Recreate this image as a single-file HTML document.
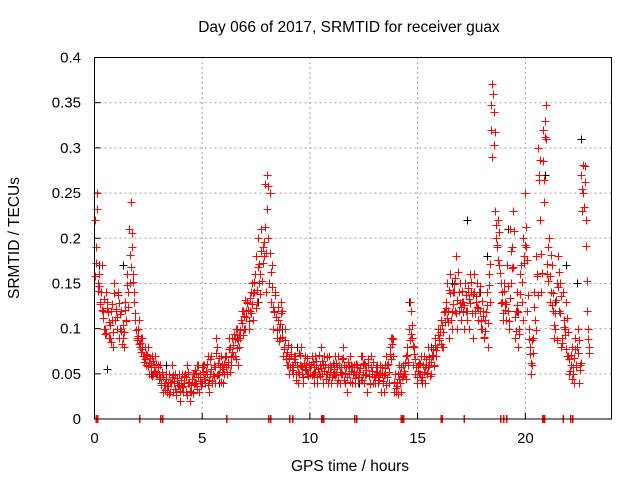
<!DOCTYPE html>
<html><head><meta charset="utf-8"><style>
body{margin:0;background:#fff}
svg text{font-family:"Liberation Sans",sans-serif;font-size:15px;fill:#000}
</style></head><body>
<svg id="chart" width="640" height="480" xmlns="http://www.w3.org/2000/svg">
<rect width="640" height="480" fill="#fff"/>
<text x="349" y="32" text-anchor="middle" style="font-size:15.5px">Day 066 of 2017, SRMTID for receiver guax</text>
<text transform="translate(19,238) rotate(-90)" text-anchor="middle" style="font-size:15.5px">SRMTID / TECUs</text>
<text x="350" y="471" text-anchor="middle" style="font-size:15.5px">GPS time / hours</text>
<g id="grid"></g>
<g id="ticks"></g>
<g id="pts" shape-rendering="crispEdges"></g>
<g id="marks" shape-rendering="crispEdges"></g>
<rect x="94.5" y="57.5" width="517" height="361.5" fill="none" stroke="#000" stroke-width="1"/>
</svg>
<script>
const xTicks=[0,5,10,15,20];
const yTicks=[0,0.05,0.1,0.15,0.2,0.25,0.3,0.35,0.4];
const yTickLabels=["0","0.05","0.1","0.15","0.2","0.25","0.3","0.35","0.4"];
const redA=[.22,.25,.16,.14,.12,.10,.13,.09,.11,.15,
.12,.14,.10,.09,.13,.16,.21,.24,.16,.11,
.10,.08,.09,.07,.06,.08,.06,.05,.07,.05,
.05,.04,.03,.05,.04,.03,.06,.04,.03,.05,
.04,.03,.05,.06,.04,.03,.05,.04,.06,.05,
.04,.06,.05,.03,.07,.05,.04,.08,.05,.06,
.05,.07,.06,.08,.09,.07,.10,.08,.11,.12,
.10,.13,.12,.15,.14,.18,.20,.16,.19,.26,
.27,.15,.13,.10,.14,.11,.09,.12,.08,.07,
.06,.08,.05,.07,.06,.05,.08,.04,.06,.05,
.05,.07,.04,.06,.05,.08,.04,.06,.05,.07,
.04,.06,.05,.07,.04,.05,.06,.03,.05,.06,
.05,.04,.06,.05,.07,.04,.05,.06,.04,.05,
.04,.06,.05,.03,.04,.05,.06,.08,.09,.03,
.03,.05,.04,.06,.05,.08,.10,.12,.06,.05,
.06,.05,.04,.07,.06,.08,.05,.07,.09,.08,
.09,.11,.08,.13,.12,.16,.10,.14,.18,.12,
.11,.13,.15,.12,.10,.14,.16,.13,.11,.12,
.10,.09,.14,.16,.32,.36,.23,.19,.17,.13,
.15,.11,.12,.21,.19,.09,.14,.10,.17,.20,
.25,.12,.08,.06,.14,.18,.30,.22,.32,.33,
.16,.20,.14,.12,.10,.18,.15,.09,.11,.13,
.07,.06,.05,.09,.08,.04,.27,.25,.22,.10];
const redB=[.19,.15,.13,.17,.10,.14,.09,.12,.08,.11,
.10,.09,.12,.08,.11,.14,.15,.19,.13,.09,
.11,.09,.07,.08,.07,.05,.07,.06,.05,.06,
.06,.05,.04,.03,.05,.04,.03,.05,.04,.02,
.05,.04,.03,.04,.02,.05,.04,.06,.03,.04,
.06,.04,.07,.05,.04,.06,.09,.05,.07,.04,
.07,.05,.09,.06,.07,.10,.06,.09,.12,.10,
.12,.10,.14,.11,.16,.13,.15,.21,.18,.14,
.20,.25,.17,.12,.09,.10,.13,.07,.10,.06,
.05,.06,.07,.05,.04,.06,.05,.07,.05,.06,
.06,.05,.07,.04,.06,.05,.07,.05,.04,.06,
.05,.07,.04,.06,.05,.08,.04,.06,.07,.04,
.06,.05,.04,.07,.05,.06,.03,.05,.07,.04,
.05,.04,.06,.05,.03,.07,.04,.09,.07,.05,
.04,.06,.03,.05,.07,.06,.13,.09,.08,.04,
.05,.07,.06,.04,.05,.06,.07,.06,.07,.10,
.10,.08,.12,.15,.09,.11,.14,.12,.10,.15,
.13,.10,.12,.14,.16,.09,.12,.15,.14,.10,
.12,.11,.08,.13,.29,.34,.20,.22,.15,.11,
.13,.17,.10,.15,.23,.12,.08,.16,.13,.18,
.19,.10,.05,.09,.11,.16,.27,.14,.24,.31,
.19,.13,.17,.09,.15,.12,.08,.14,.10,.07,
.05,.08,.04,.06,.10,.06,.23,.28,.12,.08];
const redC=[.158,.232,.147,.121,.133,.095,.118,.104,.127,.139,
.113,.128,.097,.104,.121,.148,.182,.206,.141,.098,
.092,.084,.078,.066,.071,.062,.057,.064,.052,.058,
.047,.052,.038,.044,.036,.041,.049,.033,.045,.038,
.043,.036,.047,.052,.031,.044,.039,.051,.046,.037,
.052,.047,.061,.043,.055,.048,.073,.062,.058,.052,
.061,.058,.077,.069,.082,.088,.079,.093,.106,.114,
.113,.121,.134,.127,.152,.143,.172,.186,.173,.212,
.232,.184,.146,.118,.113,.124,.105,.091,.087,.074,
.067,.072,.058,.063,.052,.071,.057,.062,.054,.048,
.058,.063,.052,.047,.071,.056,.061,.044,.057,.052,
.047,.055,.062,.043,.058,.067,.051,.046,.059,.053,
.052,.061,.047,.056,.043,.062,.054,.048,.057,.063,
.046,.052,.043,.057,.049,.038,.061,.072,.083,.041,
.036,.044,.057,.048,.062,.071,.087,.104,.072,.058,
.053,.061,.047,.058,.051,.069,.063,.078,.082,.093,
.096,.104,.118,.123,.107,.139,.127,.156,.132,.141,
.124,.118,.137,.145,.128,.117,.141,.136,.123,.108,
.114,.097,.126,.148,.347,.303,.215,.176,.162,.141,
.142,.127,.108,.186,.168,.113,.126,.094,.152,.173,
.212,.137,.072,.087,.124,.158,.264,.183,.285,.312,
.172,.158,.126,.104,.132,.146,.117,.084,.093,.112,
.066,.071,.058,.078,.073,.054,.254,.235,.191,.088];
const redD=[.173,.142,.127,.112,.094,.123,.107,.085,.096,.122,
.137,.116,.083,.096,.108,.124,.168,.152,.117,.087,
.083,.074,.063,.072,.059,.067,.048,.053,.061,.044,
.038,.046,.032,.036,.028,.047,.042,.027,.038,.031,
.035,.048,.027,.041,.038,.029,.054,.033,.042,.057,
.044,.053,.038,.066,.042,.057,.049,.068,.041,.055,
.069,.063,.052,.074,.094,.066,.087,.098,.093,.132,
.128,.108,.117,.139,.123,.168,.138,.153,.196,.184,
.258,.163,.124,.137,.098,.086,.117,.078,.066,.082,
.058,.054,.066,.043,.073,.059,.046,.055,.068,.061,
.049,.057,.064,.055,.048,.064,.053,.069,.046,.058,
.062,.049,.057,.052,.066,.043,.058,.063,.041,.057,
.045,.057,.052,.043,.061,.049,.066,.039,.053,.047,
.058,.047,.051,.042,.056,.047,.052,.066,.088,.034,
.028,.051,.046,.053,.044,.063,.094,.081,.066,.047,
.062,.043,.052,.066,.057,.048,.071,.059,.076,.087,
.083,.096,.107,.112,.143,.118,.149,.117,.163,.128,
.142,.126,.109,.133,.152,.138,.117,.124,.147,.131,
.091,.118,.106,.172,.371,.318,.193,.207,.128,.117,
.121,.147,.134,.167,.208,.097,.118,.138,.109,.192,
.176,.089,.062,.073,.098,.137,.287,.162,.264,.347,
.153,.182,.139,.117,.087,.163,.136,.102,.078,.096,
.053,.044,.067,.057,.087,.062,.281,.262,.153,.073];
const blackT=[0.05,0.2,0.6,1.3,2.2,2.6,3.3,5.8,6.6,7.2,7.6,8.7,9.4,10.2,11.1,12.3,13.5,14.6,15.6,16.6,17.3,17.9,18.2,19.2,19.6,20.3,20.9,21.4,21.9,22.4,22.6];
const blackV=[0.19,0.17,0.055,0.17,0.08,0.05,0.06,0.04,0.09,0.12,0.13,0.1,0.08,0.05,0.05,0.04,0.06,0.13,0.08,0.15,0.22,0.14,0.18,0.21,0.12,0.06,0.27,0.13,0.17,0.15,0.31];
const markerHours=[0.07,0.16,2.1,3.08,3.17,6.15,8.1,8.18,9.06,9.2,10.55,10.6,10.65,12.08,12.17,14.25,14.3,14.35,16.1,16.15,17.17,18.85,19.0,19.13,20.8,20.85,20.9,21.75,22.1,22.2];
const STEP=0.1;
const X0=94.5,X1=611.5,Y0=419,Y1=57.5,XMAX=24,YMAX=0.4;
const sx=h=>X0+(X1-X0)*h/XMAX, sy=v=>Y0-(Y0-Y1)*v/YMAX;
const NS="http://www.w3.org/2000/svg";
function mk(tag,attrs,parent){const e=document.createElementNS(NS,tag);for(const k in attrs)e.setAttribute(k,attrs[k]);parent.appendChild(e);return e;}
const grid=document.getElementById('grid'),ticks=document.getElementById('ticks'),pts=document.getElementById('pts'),marks=document.getElementById('marks');
xTicks.forEach(t=>{const x=sx(t);
 if(t>0){const l=mk('line',{x1:x,x2:x,y1:Y0,y2:Y1,stroke:'#a0a0a0','stroke-dasharray':'2,3'},grid);
 
 }
 const tk=mk('line',{x1:x,x2:x,y1:Y0,y2:Y0-6,stroke:'#000'},ticks);
 
 
 const tx=mk('text',{x:x,y:443,'text-anchor':'middle'},ticks);tx.textContent=t;
 
 });
yTicks.forEach((t,i)=>{const y=sy(t);
 if(t>0&&t<0.4){const l=mk('line',{x1:X0,x2:X1,y1:y,y2:y,stroke:'#a0a0a0','stroke-dasharray':'2,3'},grid);
 
 }
 const tk=mk('line',{x1:X0,x2:X0+6,y1:y,y2:y,stroke:'#000'},ticks);
 
 
 const tx=mk('text',{x:81,y:y+5,'text-anchor':'end'},ticks);tx.textContent=yTickLabels[i];
 
 });
function plus(h,v,c){const x=Math.round(sx(h))+0.5,y=Math.round(sy(v))+0.5;
 const p=mk('path',{d:`M${x-4} ${y}h8M${x} ${y-4}v8`,stroke:c,'stroke-width':1,fill:'none'},pts);
 
 }
blackT.forEach((h,i)=>plus(h,blackV[i],'#000'));
[[redA,0],[redC,0.025],[redB,0.05],[redD,0.075]].forEach(([arr,off])=>{
 arr.forEach((v,i)=>plus(i*STEP+off,v,'#f00'));});
markerHours.forEach(h=>{const x=sx(h);
 const m=mk('line',{x1:x,x2:x,y1:Y0-4,y2:Y0+4,stroke:'#f00','stroke-width':1.5},marks);
 
 });
</script>
</body></html>
